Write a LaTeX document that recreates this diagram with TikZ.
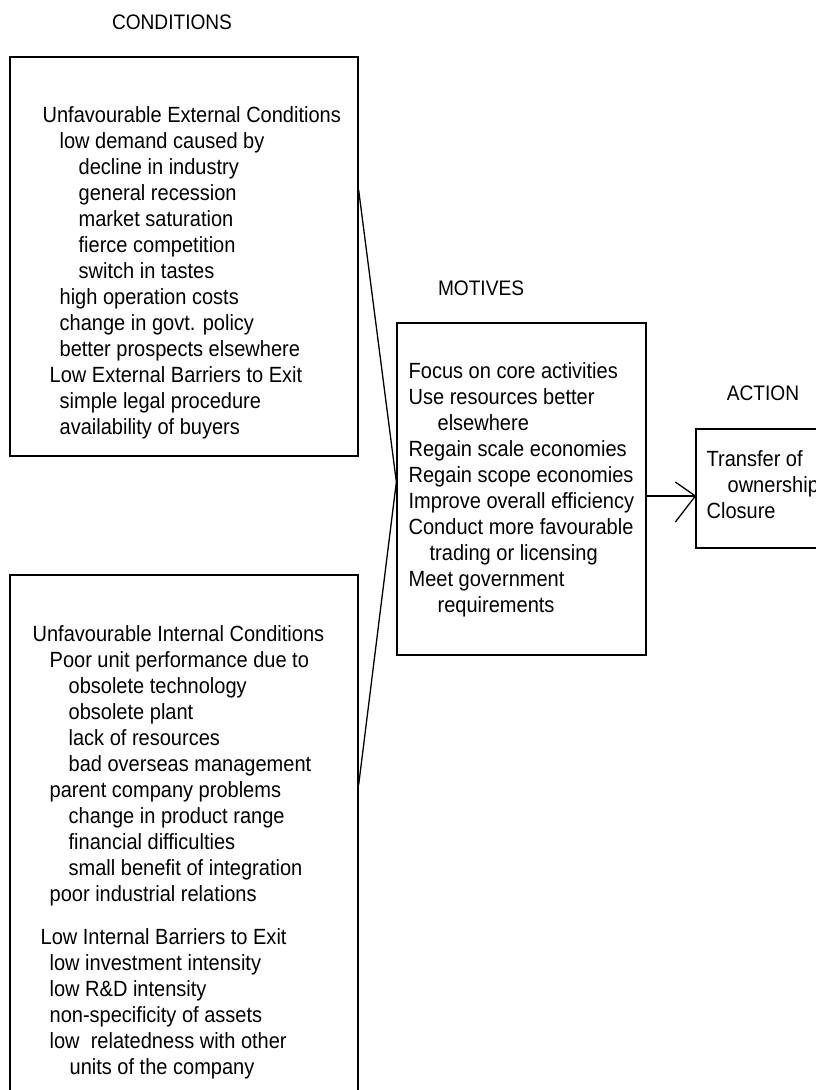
\documentclass[tikz,border=0pt]{standalone}
\usepackage{fontspec}
\setmainfont{Liberation Sans}[FakeStretch=0.91]
\usetikzlibrary{arrows.meta}
\begin{document}
\begin{tikzpicture}[x=1pt,y=-1pt,line width=1.3pt,
  box/.style={draw,rectangle,inner sep=0pt,line width=1.3pt},
  txt/.style={font=\fontsize{22}{26}\selectfont,inner sep=0pt,anchor=base west},
  ttl/.style={font=\fontsize{21}{26}\selectfont,inner sep=0pt,anchor=base}]
\useasboundingbox (0,0) rectangle (816,1090);
\clip (0,0) rectangle (816,1090);
% titles
\node[ttl] (tcond) at (172,29) {CONDITIONS};
\node[ttl] (tmot) at (481,295) {MOTIVES};
\node[ttl] (tact) at (763,400) {ACTION};
% boxes
\node[box,minimum width=348pt,minimum height=399pt] (ext) at (184,256.5) {};
\node[box,minimum width=348pt,minimum height=540pt] (int) at (184,845) {};
\node[box,minimum width=249pt,minimum height=332pt] (mot) at (521.5,489) {};
\node[box,minimum width=144pt,minimum height=119pt] (act) at (768,488.5) {};
% external conditions text
\foreach \i/\x/\t in {
  0/0/{Unfavourable External Conditions},
  1/17/{low demand caused by},
  2/36/{decline in industry},
  3/36/{general recession},
  4/36/{market saturation},
  5/36/{fierce competition},
  6/36/{switch in tastes},
  7/17/{high operation costs},
  8/17/{change in govt. policy},
  9/17/{better prospects elsewhere},
  10/7/{Low External Barriers to Exit},
  11/17/{simple legal procedure},
  12/17/{availability of buyers}}
  \node[txt] (ext\i) at (42+\x,122+\i*26) {\t};
% internal conditions text
\foreach \i/\x/\y/\t in {
  0/0/641/{Unfavourable Internal Conditions},
  1/17/667/{Poor unit performance due to},
  2/36/693/{obsolete technology},
  3/36/719/{obsolete plant},
  4/36/745/{lack of resources},
  5/36/771/{bad overseas management},
  6/17/797/{parent company problems},
  7/36/823/{change in product range},
  8/36/849/{financial difficulties},
  9/36/875/{small benefit of integration},
  10/17/901/{poor industrial relations},
  11/8/944/{Low Internal Barriers to Exit},
  12/17/970/{low investment intensity},
  13/17/996/{low R\&D intensity},
  14/17/1022/{non-specificity of assets},
  15/17/1048/{low\ \ relatedness with other},
  16/37/1074/{units of the company}}
  \node[txt] (int\i) at (32+\x,\y) {\t};
% motives text
\foreach \i/\x/\t in {
  0/0/{Focus on core activities},
  1/0/{Use resources better},
  2/29/{elsewhere},
  3/0/{Regain scale economies},
  4/0/{Regain scope economies},
  5/0/{Improve overall efficiency},
  6/0/{Conduct more favourable},
  7/21/{trading or licensing},
  8/0/{Meet government},
  9/29/{requirements}}
  \node[txt] (mot\i) at (408+\x,378+\i*26) {\t};
% action text
\node[txt] (act0) at (706,466) {Transfer of};
\node[txt] (act1) at (727,492) {ownership};
\node[txt] (act2) at (706,518) {Closure};
% connectors
\coordinate (ya) at (0,190);
\coordinate (yb) at (0,482);
\coordinate (yc) at (0,785);
\coordinate (yd) at (0,496);
\draw (ext.east |- ya) -- (mot.west |- yb) -- (int.east |- yc);
\coordinate (tip) at (act.west |- yd);
\draw (mot.east |- yd) -- (tip);
\draw ([shift={(-20,-14)}]tip) -- (tip) -- ([shift={(-20,26)}]tip);
\end{tikzpicture}
\end{document}
